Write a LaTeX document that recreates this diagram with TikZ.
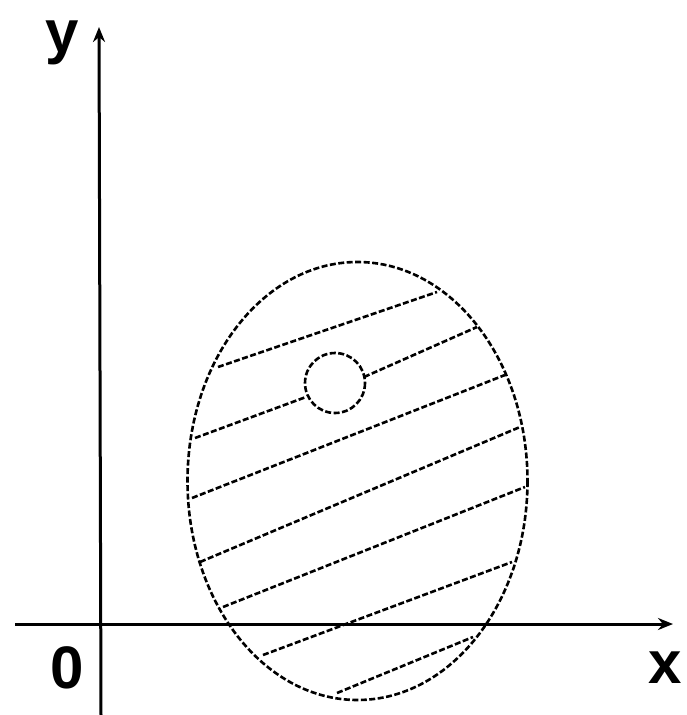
\documentclass[tikz,border=0pt]{standalone}
\usepackage{fontspec}
\setmainfont{Liberation Sans}
\usetikzlibrary{arrows.meta}
\begin{document}
\begin{tikzpicture}[x=1pt,y=-1pt,
  axis/.style={line width=3pt,-{Stealth[length=15pt,width=12pt]}},
  hatch/.style={line width=2.6pt,dash pattern=on 6pt off 2.5pt},
  lbl/.style={font=\fontsize{60}{60}\selectfont\bfseries,inner sep=0pt}]
\useasboundingbox (0,0) rectangle (686,715);
% axes
\draw[axis] (15,624) -- (673,624);
\draw[axis] (101,715) -- (99,27);
\node[lbl] (ylab) at (62,43) {y};
\node[lbl] (zero) at (67,668) {0};
\node[lbl] (xlab) at (665,668) {x};
% ellipse and hole
\draw[hatch] (357.5,481) ellipse [x radius=170, y radius=219];
\draw[hatch] (335,383) circle [radius=30];
% hatching
\draw[hatch] (218,367) -- (437,292);
\draw[hatch] (195,438) -- (306,397);
\draw[hatch] (364,377) -- (477,327);
\draw[hatch] (192,498) -- (505,375);
\draw[hatch] (200,562) -- (520,427);
\draw[hatch] (223,607) -- (525,487);
\draw[hatch] (263,655) -- (512,562);
\draw[hatch] (337,693) -- (473,637);
\end{tikzpicture}
\end{document}
